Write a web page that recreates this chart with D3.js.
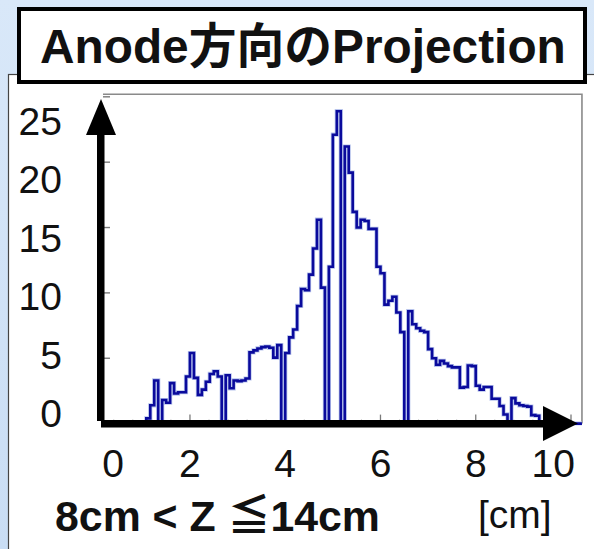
<!DOCTYPE html>
<html>
<head>
<meta charset="utf-8">
<script src="https://cdn.jsdelivr.net/npm/d3@7"></script>
<style>
  html, body { margin: 0; padding: 0; background: #d3e5f8; }
  svg { display: block; }
</style>
</head>
<body>
<svg id="chart" width="594" height="549"></svg>
<script>
// ---- data ----
const titleText = "Anode方向のProjection";
const rangeText = "8cm < Z ≦14cm";
const unitText = "[cm]";

// histogram: bins of 1/12 cm starting at 0 cm
const binWidth = 1 / 12;
const counts = [
  0, 0, 0, 0, 0, 0, 0, 0, 0, 0, 0, 0, 0,
  0.4, 1.4, 3.3, 0, 1.8, 1.6, 3.1, 2.3, 2.4, 2.4, 3.6, 5.4,
  3.5, 2.2, 2.6, 3.2, 3.8, 4.0, 3.6, 0, 3.7, 2.7, 3.3, 3.25,
  3.3, 3.45, 5.45, 5.6, 5.75, 5.85, 5.9, 5.8, 5.05, 6.0, 0, 5.4,
  6.6, 7.2, 9.0, 10.3, 10.2, 11.4, 13.4, 15.6, 10.4, 0, 12.0, 22.1,
  23.9, 0, 21.2, 19.2, 16.2, 15.0, 15.6, 15.5, 14.9, 14.9, 12.0, 11.5,
  9.1, 9.4, 9.7, 8.5, 7.0, 0, 8.6, 7.6, 7.3, 7.1, 7.0, 5.7,
  5.0, 4.5, 4.8, 4.6, 4.4, 4.3, 4.3, 2.75, 2.8, 4.45, 4.4, 2.9,
  2.6, 2.8, 2.8, 1.9, 1.9, 1.35, 0.7, 0, 1.95, 1.55, 1.4, 1.35,
  1.3, 0.65, 0.6, 0, 0, 0, 0, 0, 0, 0, 0, 0, 0, 0, 0
];
const xLabels = ["0", "2", "4", "6", "8", "10"];
const xLabelValues = [0, 2, 4, 6, 8, 10];
const yLabels = ["0", "5", "10", "15", "20", "25"];
const yLabelValues = [0, 5, 10, 15, 20, 25];
const xFrame = [0.174, 10.23];
const yFrame = [0, 25.2];

// ---- layout ----
const svg = d3.select("#chart");
const W = 594, H = 549;

const x = d3.scaleLinear().domain([0, 10]).range([94.7, 571]);
const y = d3.scaleLinear().domain(yFrame).range([423.6, 94.2]);
// large slide labels on the vertical axis sit on their own even spacing
const yLab = d3.scaleLinear().domain([0, 25]).range([427, 135]);

const fontSans = "'Liberation Sans', Arial, 'Noto Sans CJK JP', sans-serif";

// background
const defs = svg.append("defs");
const bg = defs.append("linearGradient").attr("id", "bg").attr("x1", 0).attr("y1", 0).attr("x2", 0).attr("y2", 1);
bg.append("stop").attr("offset", "0%").attr("stop-color", "#d9e8f9");
bg.append("stop").attr("offset", "100%").attr("stop-color", "#c9ddf4");
svg.append("rect").attr("width", W).attr("height", H).attr("fill", "url(#bg)");

// white panel
svg.append("rect")
  .attr("x", 8.5).attr("y", 74.5).attr("width", W).attr("height", H)
  .attr("fill", "#fff").attr("stroke", "#444").attr("stroke-width", 1.2);

// plot frame
const fx0 = x(xFrame[0]), fx1 = x(xFrame[1]);
const fy0 = y(yFrame[0]), fy1 = y(yFrame[1]);
svg.append("path")
  .attr("d", `M${fx0},${fy1}H${fx1}V${fy0}`)
  .attr("fill", "none").attr("stroke", "#8a8a8a").attr("stroke-width", 1.6);

// y ticks (frame axis)
svg.append("g").selectAll("line")
  .data(d3.range(5, 26, 5))
  .join("line")
  .attr("x1", fx0).attr("x2", fx0 + 7)
  .attr("y1", d => y(d)).attr("y2", d => y(d))
  .attr("stroke", "#7a7a7a").attr("stroke-width", 1.4);

// x ticks (frame axis): major every 2 cm, minor every 0.4 cm
const minorX = d3.range(0.4, 10.01, 0.4).filter(v => Math.abs(v / 2 - Math.round(v / 2)) > 1e-6);
svg.append("g").selectAll("line")
  .data(minorX)
  .join("line")
  .attr("x1", d => x(d)).attr("x2", d => x(d))
  .attr("y1", fy0 - 4).attr("y2", fy0)
  .attr("stroke", "#9a9a9a").attr("stroke-width", 1);
svg.append("g").selectAll("line")
  .data([2, 4, 6, 8, 10])
  .join("line")
  .attr("x1", d => x(d)).attr("x2", d => x(d))
  .attr("y1", fy0 - 9).attr("y2", fy0)
  .attr("stroke", "#7a7a7a").attr("stroke-width", 1.3);

// histogram outline
defs.append("clipPath").attr("id", "frameClip")
  .append("rect").attr("x", fx0).attr("y", fy1 - 2).attr("width", fx1 - fx0).attr("height", fy0 - fy1 + 4);
const pts = counts.map((v, i) => [i * binWidth, v]);
pts.push([counts.length * binWidth, counts[counts.length - 1]]);
const step = d3.line().x(d => x(d[0])).y(d => y(d[1])).curve(d3.curveStepAfter);
svg.append("path")
  .attr("clip-path", "url(#frameClip)")
  .attr("d", step(pts))
  .attr("fill", "none")
  .attr("stroke", "#b8c4ec").attr("stroke-width", 4.2).attr("stroke-linejoin", "miter");
svg.append("path")
  .attr("clip-path", "url(#frameClip)")
  .attr("d", step(pts))
  .attr("fill", "none")
  .attr("stroke", "#0a0a9c").attr("stroke-width", 2.6).attr("stroke-linejoin", "miter");

// black arrows drawn over the axes
svg.append("rect").attr("x", 97).attr("y", 130).attr("width", 7.5).attr("height", 291).attr("fill", "#000");
svg.append("path").attr("d", "M101,99 L86,135 L116,135 Z").attr("fill", "#000");
svg.append("rect").attr("x", 101).attr("y", 420).attr("width", 446).attr("height", 7.5).attr("fill", "#000");
svg.append("path").attr("d", "M578,423.5 L543,406 L543,441 Z").attr("fill", "#000");

// vertical axis labels
svg.append("g").selectAll("text")
  .data(yLabelValues)
  .join("text")
  .attr("x", 62).attr("y", d => yLab(d))
  .attr("text-anchor", "end")
  .attr("font-family", fontSans).attr("font-size", 39)
  .attr("fill", "#111")
  .text((d, i) => yLabels[i]);

// horizontal axis labels
svg.append("g").selectAll("text")
  .data(xLabelValues)
  .join("text")
  .attr("x", (d, i) => i === 0 ? x(d) + 7.5 : i === xLabelValues.length - 1 ? x(d) + 4 : x(d))
  .attr("y", 477)
  .attr("text-anchor", (d, i) => i === 0 ? "start" : i === xLabelValues.length - 1 ? "end" : "middle")
  .attr("font-family", fontSans).attr("font-size", 39)
  .attr("fill", "#111")
  .text((d, i) => xLabels[i]);

// range and unit captions
function fitText(sel, width) {
  const w = sel.node().getComputedTextLength();
  const fs = parseFloat(sel.attr("font-size"));
  sel.attr("font-size", fs * width / w);
}
const rangeLabel = svg.append("text")
  .attr("x", 55).attr("y", 531)
  .attr("font-family", fontSans).attr("font-size", 38).attr("font-weight", "bold")
  .attr("fill", "#111").text(rangeText);
fitText(rangeLabel, 325);
svg.append("text")
  .attr("x", 478).attr("y", 528)
  .attr("font-family", fontSans).attr("font-size", 39)
  .attr("fill", "#111").text(unitText);

// title box
svg.append("rect")
  .attr("x", 19).attr("y", 9).attr("width", 566).attr("height", 73)
  .attr("fill", "#fff").attr("stroke", "#000").attr("stroke-width", 4);
const title = svg.append("text")
  .attr("x", 40).attr("y", 63)
  .attr("font-family", fontSans).attr("font-size", 46).attr("font-weight", "bold")
  .attr("fill", "#111").text(titleText);
fitText(title, 526);
</script>
</body>
</html>
